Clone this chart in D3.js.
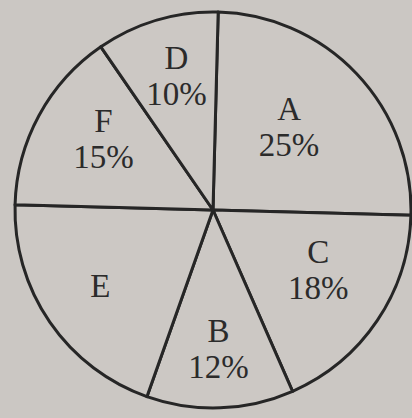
<!DOCTYPE html>
<html>
<head>
<meta charset="utf-8">
<script src="https://cdn.jsdelivr.net/npm/d3@7"></script>
<style>
  html, body { margin: 0; padding: 0; background: #cbc7c3; }
  svg { display: block; }
</style>
</head>
<body>
<svg id="chart" width="412" height="418"></svg>
<script>
// ---- data ----
const categories = ["A", "C", "B", "E", "F", "D"];
const shares = [25, 18, 12, 20, 15, 10];
const shareLabels = ["25%", "18%", "12%", "", "15%", "10%"];

// ---- layout / style ----
const W = 412, H = 418;
const cx = 213, cy = 210, R = 198;
const rotation = 1.5 * Math.PI / 180; // photo is slightly tilted
const labelRadiusFactor = { A: 0.53, C: 0.64, B: 0.76, E: 0.69, F: 0.63, D: 0.65 };
const ink = "#262626";

const svg = d3.select("#chart");
svg.append("rect").attr("width", W).attr("height", H).attr("fill", "#cbc7c3");

const g = svg.append("g").attr("transform", `translate(${cx},${cy})`);

const pie = d3.pie()
  .sort(null)
  .value(d => d.v)
  .startAngle(rotation)
  .endAngle(rotation + 2 * Math.PI);

const rows = categories.map((c, i) => ({ c, v: shares[i], t: shareLabels[i] }));
const arcs = pie(rows);

const arc = d3.arc().innerRadius(0).outerRadius(R);

g.selectAll("path.slice")
  .data(arcs)
  .join("path")
  .attr("class", "slice")
  .attr("d", arc)
  .attr("fill", "#ccc8c4")
  .attr("stroke", ink)
  .attr("stroke-width", 3)
  .attr("stroke-linejoin", "round");

const labels = g.selectAll("g.lab")
  .data(arcs)
  .join("g")
  .attr("class", "lab")
  .attr("transform", d => {
    const r = R * labelRadiusFactor[d.data.c];
    const a = (d.startAngle + d.endAngle) / 2;
    return `translate(${r * Math.sin(a)},${-r * Math.cos(a)})`;
  });

labels.each(function(d) {
  const sel = d3.select(this);
  const two = d.data.t !== "";
  sel.append("text")
    .attr("text-anchor", "middle")
    .attr("y", two ? -18 : 10)
    .attr("font-family", "'Liberation Serif', 'DejaVu Serif', serif")
    .attr("font-size", 33)
    .attr("fill", "#2b2b2b")
    .text(d.data.c);
  if (two) {
    sel.append("text")
      .attr("text-anchor", "middle")
      .attr("y", 18)
      .attr("font-family", "'Liberation Serif', 'DejaVu Serif', serif")
      .attr("font-size", 33)
      .attr("fill", "#2b2b2b")
      .text(d.data.t);
  }
});
</script>
</body>
</html>
